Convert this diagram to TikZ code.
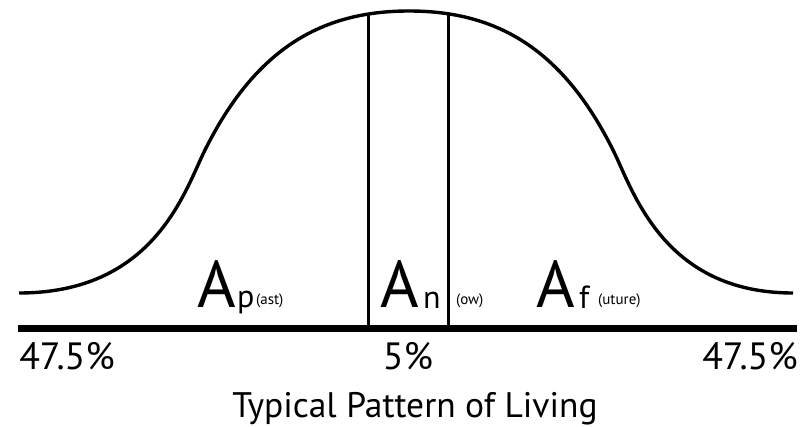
\documentclass[tikz,border=0pt]{standalone}
\usepackage{fontspec}
\setmainfont{PT Sans}
\begin{document}
\begin{tikzpicture}[x=1pt,y=-1pt,
  curve/.style={line width=3.4pt, line join=round},
  divider/.style={line width=3pt},
  baseln/.style={line width=7pt},
  txt/.style={inner sep=0pt, anchor=base west},
  bigA/.style={txt, font=\fontsize{66}{66}\selectfont},
  sublet/.style={txt, font=\fontsize{32}{32}\selectfont},
  paren/.style={txt, font=\fontsize{15}{15}\selectfont},
  pct/.style={inner sep=0pt, anchor=base, font=\fontsize{38}{38}\selectfont},
  ttl/.style={inner sep=0pt, anchor=base, font=\fontsize{35.5}{35.5}\selectfont}]
\useasboundingbox (0,0) rectangle (804,427);
\fill[white] (0,0) rectangle (804,427);
% bell curve
\coordinate (cl) at (19,293);
\coordinate (il) at (205,150);
\coordinate (top) at (409,11);
\coordinate (ir) at (613,150);
\coordinate (cr) at (793,293);
\draw[curve] (cl) .. controls (155,293) and (185,190) .. (il)
  .. controls (255,50) and (320,11) .. (top)
  .. controls (498,11) and (563,50) .. (ir)
  .. controls (633,190) and (663,293) .. (cr);
% baseline
\coordinate (bl) at (18,329);
\coordinate (br) at (797,329);
\draw[baseln] (bl) -- (br);
% dividers
\coordinate (d1t) at (368,13);
\coordinate (d1b) at (368,329);
\coordinate (d2t) at (448,13);
\coordinate (d2b) at (448,329);
\draw[divider] (d1t) -- (d1b);
\draw[divider] (d2t) -- (d2b);
% labels
\node[bigA] (Ap) at (197,308) {A};
\node[sublet] (p) at (237,308) {p};
\node[paren] (ast) at (256,305) {(ast)};
\node[bigA] (An) at (380,308) {A};
\node[sublet] (n) at (423,309) {n};
\node[paren] (ow) at (456,305) {(ow)};
\node[bigA] (Af) at (536,308) {A};
\node[sublet] (f) at (579,309) {f};
\node[paren] (uture) at (598,305) {(uture)};
% percentages
\node[pct] (pl) at (67,370) {47.5\%};
\node[pct] (pm) at (408,370) {5\%};
\node[pct] (pr) at (750,370) {47.5\%};
\node[ttl] (title) at (415,418) {Typical Pattern of Living};
\end{tikzpicture}
\end{document}
